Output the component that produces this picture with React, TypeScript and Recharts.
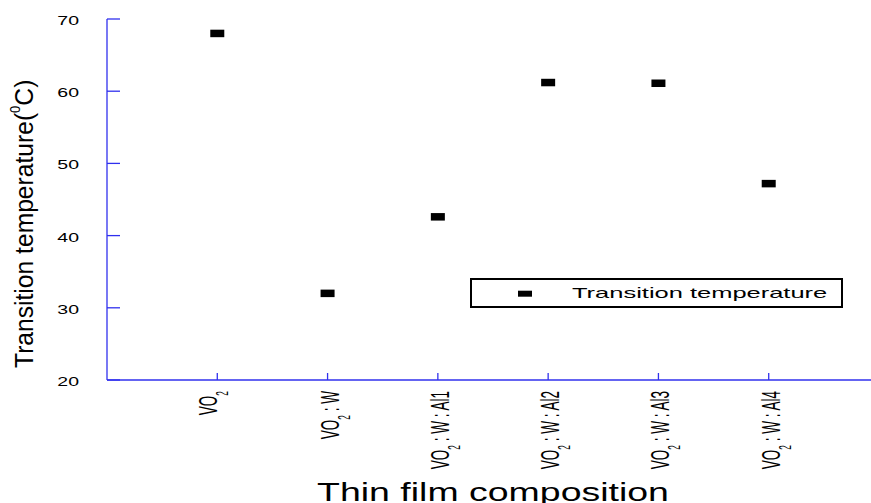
import React from "react";
import { ScatterChart, Scatter, XAxis, YAxis, Legend } from "recharts";

// Thin-film compositions (the "2" after "VO" is drawn as a subscript)
const compositions = [
  "VO2",
  "VO2 : W",
  "VO2 : W : Al1",
  "VO2 : W : Al2",
  "VO2 : W : Al3",
  "VO2 : W : Al4",
];
// Transition temperature, °C
const transitionTemps = [68, 32, 42.6, 61.2, 61.1, 47.2];
const yTicks = [20, 30, 40, 50, 60, 70];
const xDomain = [0, compositions.length + 1];
const xTicks = compositions.map((_, i) => i + 1);

const seriesName = "Transition temperature";
const xTitle = "Thin film composition";

const data = compositions.map((c, i) => ({ x: i + 1, y: transitionTemps[i], name: c }));

const BLUE = "#3030ee";
const FONT = "'Liberation Sans', Arial, Helvetica, sans-serif";

function CompositionTick(props: any) {
  const { x, y, payload } = props;
  const label: string = compositions[payload.value - 1] ?? "";
  const base = label.slice(0, 2);
  const sub = label.slice(2, 3);
  const rest = label.slice(3);
  const shift = rest ? 11 : 0;
  return (
    <g>
      <line x1={x} y1={y} x2={x} y2={y - 7} stroke={BLUE} strokeWidth={1.3} />
      <text
        transform={`translate(${x + shift},${y + 11}) rotate(-90) scale(0.52,1)`}
        textAnchor="end"
        fontSize={26}
        fontFamily={FONT}
        fill="#000"
      >
        {base}
        <tspan fontSize={16} dy={11}>{sub}</tspan>
        <tspan dy={-11}>{rest}</tspan>
      </text>
    </g>
  );
}

function TopTick(props: any) {
  const { x, y } = props;
  return <line x1={x} y1={y} x2={x} y2={y + 7} stroke={BLUE} strokeWidth={1.3} />;
}

function TempTick(props: any) {
  const { x, y, payload } = props;
  return (
    <g>
      <line x1={x} y1={y} x2={x + 13} y2={y} stroke={BLUE} strokeWidth={1.3} />
      <text
        transform={`translate(${x - 28},${y + 6}) scale(1.56,1)`}
        textAnchor="end"
        fontSize={12.5}
        fontFamily={FONT}
        fill="#000"
      >
        {payload.value}
      </text>
    </g>
  );
}

function RightTick(props: any) {
  const { x, y } = props;
  return <line x1={x} y1={y} x2={x - 12} y2={y} stroke={BLUE} strokeWidth={1.3} />;
}

function XTitle(props: any) {
  const vb = props.viewBox;
  const cx = vb.x + vb.width / 2;
  const by = vb.y + vb.height - 2;
  return (
    <text
      transform={`translate(${cx},${by}) scale(1.47,1)`}
      textAnchor="middle"
      fontSize={25.5}
      fontFamily={FONT}
      fill="#000"
    >
      {xTitle}
    </text>
  );
}

function YTitle(props: any) {
  const vb = props.viewBox;
  const bx = vb.x + 33;
  const by = vb.y + vb.height - 12;
  return (
    <text
      transform={`translate(${bx},${by}) rotate(-90) scale(0.93,1)`}
      textAnchor="start"
      fontSize={26.5}
      fontFamily={FONT}
      fill="#000"
    >
      Transition temperature(
      <tspan fontSize={14} dy={-13}>0</tspan>
      <tspan dy={13}>C)</tspan>
    </text>
  );
}

function MarkerShape(props: any) {
  const { cx, cy } = props;
  return <rect x={cx - 7} y={cy - 3.75} width={14} height={7.5} fill="#000" />;
}

function LegendBox(props: any) {
  const item = props.payload && props.payload[0];
  const text = item ? item.value : seriesName;
  return (
    <svg width={373} height={30} style={{ display: "block" }}>
      <rect x={1} y={1} width={371} height={28} fill="#fff" stroke="#000" strokeWidth={2} />
      <rect x={48} y={12.7} width={14} height={6} fill="#000" />
      <text
        transform="translate(102,20) scale(1.82,1)"
        fontSize={14}
        fontFamily={FONT}
        fill="#000"
      >
        {text}
      </text>
    </svg>
  );
}

export default function App() {
  return (
    <div
      style={{
        position: "absolute",
        left: 0,
        top: 0,
        width: 871,
        height: 503,
        overflow: "hidden",
        background: "#fff",
      }}
    >
      <ScatterChart
        width={887}
        height={503}
        margin={{ top: 19, right: 8, bottom: 0, left: 0 }}
        style={{ fontFamily: FONT }}
      >
        <XAxis
          xAxisId="bottom"
          type="number"
          dataKey="x"
          domain={xDomain}
          ticks={xTicks}
          interval={0}
          height={123}
          tickSize={0}
          tickMargin={0}
          axisLine={{ stroke: BLUE, strokeWidth: 1.3 }}
          tickLine={false}
          tick={<CompositionTick />}
          label={{ value: xTitle, content: <XTitle /> }}
          allowDataOverflow
        />
        <XAxis
          xAxisId="top"
          orientation="top"
          type="number"
          domain={xDomain}
          ticks={xTicks}
          interval={0}
          height={0}
          tickSize={0}
          tickMargin={0}
          axisLine={{ stroke: BLUE, strokeWidth: 1.3 }}
          tickLine={false}
          tick={<TopTick />}
          allowDataOverflow
        />
        <YAxis
          yAxisId="left"
          type="number"
          dataKey="y"
          domain={[20, 70]}
          ticks={yTicks}
          interval={0}
          width={107}
          tickSize={0}
          tickMargin={0}
          axisLine={{ stroke: BLUE, strokeWidth: 1.3 }}
          tickLine={false}
          tick={<TempTick />}
          label={{ value: "Transition temperature", content: <YTitle /> }}
          allowDataOverflow
        />
        <YAxis
          yAxisId="right"
          orientation="right"
          type="number"
          domain={[20, 70]}
          ticks={yTicks}
          interval={0}
          width={0}
          tickSize={0}
          tickMargin={0}
          axisLine={{ stroke: BLUE, strokeWidth: 1.3 }}
          tickLine={false}
          tick={<RightTick />}
          allowDataOverflow
        />
        <Legend
          layout="horizontal"
          verticalAlign="middle"
          content={<LegendBox />}
          wrapperStyle={{ position: "absolute", left: 470, top: 278, width: 373, height: 30 }}
        />
        <Scatter
          name={seriesName}
          data={data}
          xAxisId="bottom"
          yAxisId="left"
          fill="#000"
          shape={<MarkerShape />}
          isAnimationActive={false}
        />
      </ScatterChart>
    </div>
  );
}
